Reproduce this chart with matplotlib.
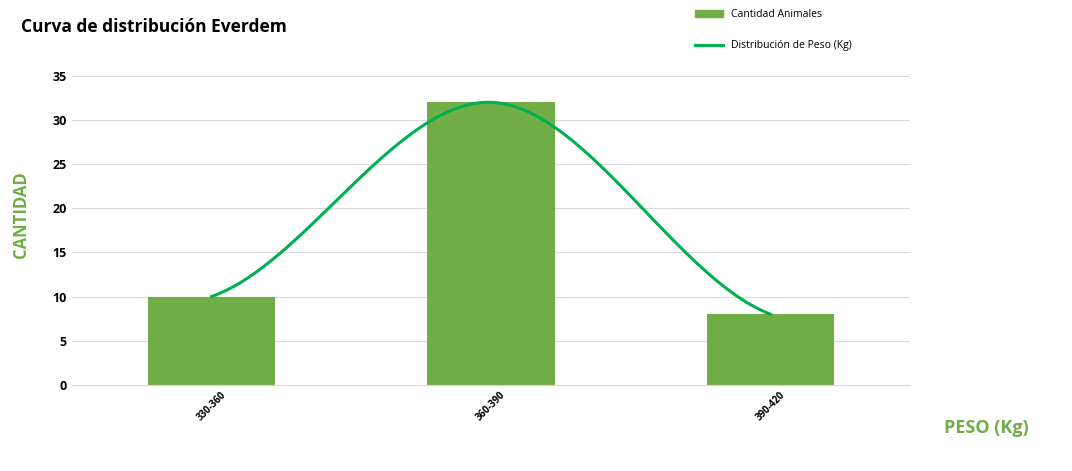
import matplotlib
matplotlib.use("Agg")
import matplotlib.pyplot as plt
import numpy as np
from matplotlib.lines import Line2D
from matplotlib.patches import Patch

categories = ["330-360", "360-390", "390-420"]
cantidad = [10, 32, 8]

BAR_COLOR = "#70AD47"
LINE_COLOR = "#00B050"

plt.rcParams["font.family"] = ["Open Sans", "DejaVu Sans"]


def smooth(xs, ys, n=60):
    """Catmull-Rom style smoothing like Excel's smoothed line."""
    xs = np.asarray(xs, float)
    ys = np.asarray(ys, float)
    px = np.concatenate([[2 * xs[0] - xs[1]], xs, [2 * xs[-1] - xs[-2]]])
    py = np.concatenate([[ys[0]], ys, [ys[-1]]])
    ox, oy = [], []
    for i in range(1, len(px) - 2):
        t = np.linspace(0, 1, n)
        p0, p1, p2, p3 = (np.array([px[j], py[j]]) for j in range(i - 1, i + 3))
        pts = 0.5 * ((2 * p1)[:, None] + (-p0 + p2)[:, None] * t
                     + (2 * p0 - 5 * p1 + 4 * p2 - p3)[:, None] * t ** 2
                     + (-p0 + 3 * p1 - 3 * p2 + p3)[:, None] * t ** 3)
        ox.extend(pts[0])
        oy.extend(pts[1])
    return np.array(ox), np.array(oy)


fig = plt.figure(figsize=(10.72, 4.71), dpi=100)
ax = fig.add_axes([0.067, 0.183, 0.782, 0.656])

x = np.arange(len(categories))
ax.bar(x, cantidad, width=0.455, color=BAR_COLOR, zorder=2)
sx, sy = smooth(x, cantidad)
ax.plot(sx, sy, color=LINE_COLOR, linewidth=2.2, zorder=3)

ax.set_xlim(-0.5, 2.5)
ax.set_ylim(0, 35)
ax.set_yticks(range(0, 36, 5))
ax.set_xticks(x)
ax.set_xticklabels(categories, rotation=45, fontsize=7, fontweight="bold")
ax.tick_params(axis="y", labelsize=9, length=0)
for lab in ax.get_yticklabels():
    lab.set_fontweight("bold")
ax.tick_params(axis="x", length=0)
ax.grid(axis="y", color="#D9D9D9", linewidth=0.8, zorder=0)
for s in ["top", "right", "left"]:
    ax.spines[s].set_visible(False)
ax.spines["bottom"].set_color("#D9D9D9")

fig.text(0.02, 0.943, "Curva de distribución Everdem", fontsize=12.5,
         fontweight="bold", va="center")
fig.text(0.02, 0.545, "CANTIDAD", rotation=90, color=BAR_COLOR, fontsize=12,
         fontweight="bold", va="center", ha="center")
fig.text(0.92, 0.091, "PESO (Kg)", color=BAR_COLOR, fontsize=13,
         fontweight="bold", va="center", ha="center")

fig.legend(handles=[Patch(color=BAR_COLOR, label="Cantidad Animales"),
                    Line2D([], [], color=LINE_COLOR, lw=2.2, label="Distribución de Peso (Kg)")],
           loc="upper left", bbox_to_anchor=(0.64, 1.0), frameon=False, fontsize=7.5,
           labelspacing=1.9, handlelength=2.6)

fig.savefig("out.png", dpi=100)
